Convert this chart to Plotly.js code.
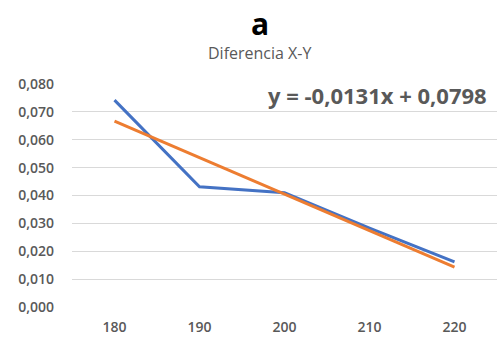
<!DOCTYPE html>
<html><head><meta charset="utf-8">
<script src="https://cdn.plot.ly/plotly-3.0.1.min.js"></script>
<style>html,body{margin:0;padding:0;background:#fff}#chart{width:497px;height:337px}</style>
</head><body><div id="chart"></div>
<script>
var categories = ['180','190','200','210','220'];
var diferencia = [0.0742, 0.0431, 0.0410, 0.0283, 0.0162];
var tendencia = [0.0667, 0.0536, 0.0405, 0.0274, 0.0143];
var yTickVals = [0,0.01,0.02,0.03,0.04,0.05,0.06,0.07,0.08];
var yTickText = ['0,000','0,010','0,020','0,030','0,040','0,050','0,060','0,070','0,080'];
var titleText = 'a';
var subtitleText = 'Diferencia X-Y';
var equationText = 'y = -0,0131x + 0,0798';

var font = 'Open Sans, Noto Sans, sans-serif';
var data = [
  {x: categories, y: diferencia, type: 'scatter', mode: 'lines', line: {color: '#4472C4', width: 3}, hoverinfo: 'none'},
  {x: categories, y: tendencia, type: 'scatter', mode: 'lines', line: {color: '#ED7D31', width: 3}, hoverinfo: 'none'}
];
var layout = {
  width: 497, height: 337,
  margin: {l: 72, r: 0, t: 84, b: 30},
  paper_bgcolor: '#fff', plot_bgcolor: '#fff',
  showlegend: false,
  font: {family: font, color: '#595959'},
  xaxis: {type: 'category', range: [-0.5, 4.5], showgrid: false, zeroline: false, showline: false,
          ticks: '', tickfont: {size: 14, color: '#595959', family: font, weight: 600}, ticklabelstandoff: 10},
  yaxis: {range: [0, 0.08], tickvals: yTickVals, ticktext: yTickText, showgrid: true, gridcolor: '#d9d9d9', gridwidth: 1,
          zeroline: false, showline: false, ticks: '', tickfont: {size: 14, color: '#595959', family: font, weight: 600}, ticklabelstandoff: 17},
  annotations: [
    {text: titleText, xref: 'paper', yref: 'paper', x: 0.5, y: 1, xanchor: 'center', yanchor: 'middle', yshift: 61,
     showarrow: false, font: {size: 30, color: '#000', family: font, weight: 700}, xshift: -25},
    {text: subtitleText, xref: 'paper', yref: 'paper', x: 0.5, y: 1, xanchor: 'center', yanchor: 'middle',
     showarrow: false, font: {size: 16, color: '#595959', family: font}, xshift: -25, yshift: 31},
    {text: equationText, xref: 'paper', yref: 'paper', x: 1, y: 1, xanchor: 'right', yanchor: 'middle',
     showarrow: false, font: {size: 22, color: '#595959', family: font, weight: 700}, xshift: -8, yshift: -11}
  ]
};
Plotly.newPlot('chart', data, layout, {staticPlot: true, displayModeBar: false});
</script></body></html>
